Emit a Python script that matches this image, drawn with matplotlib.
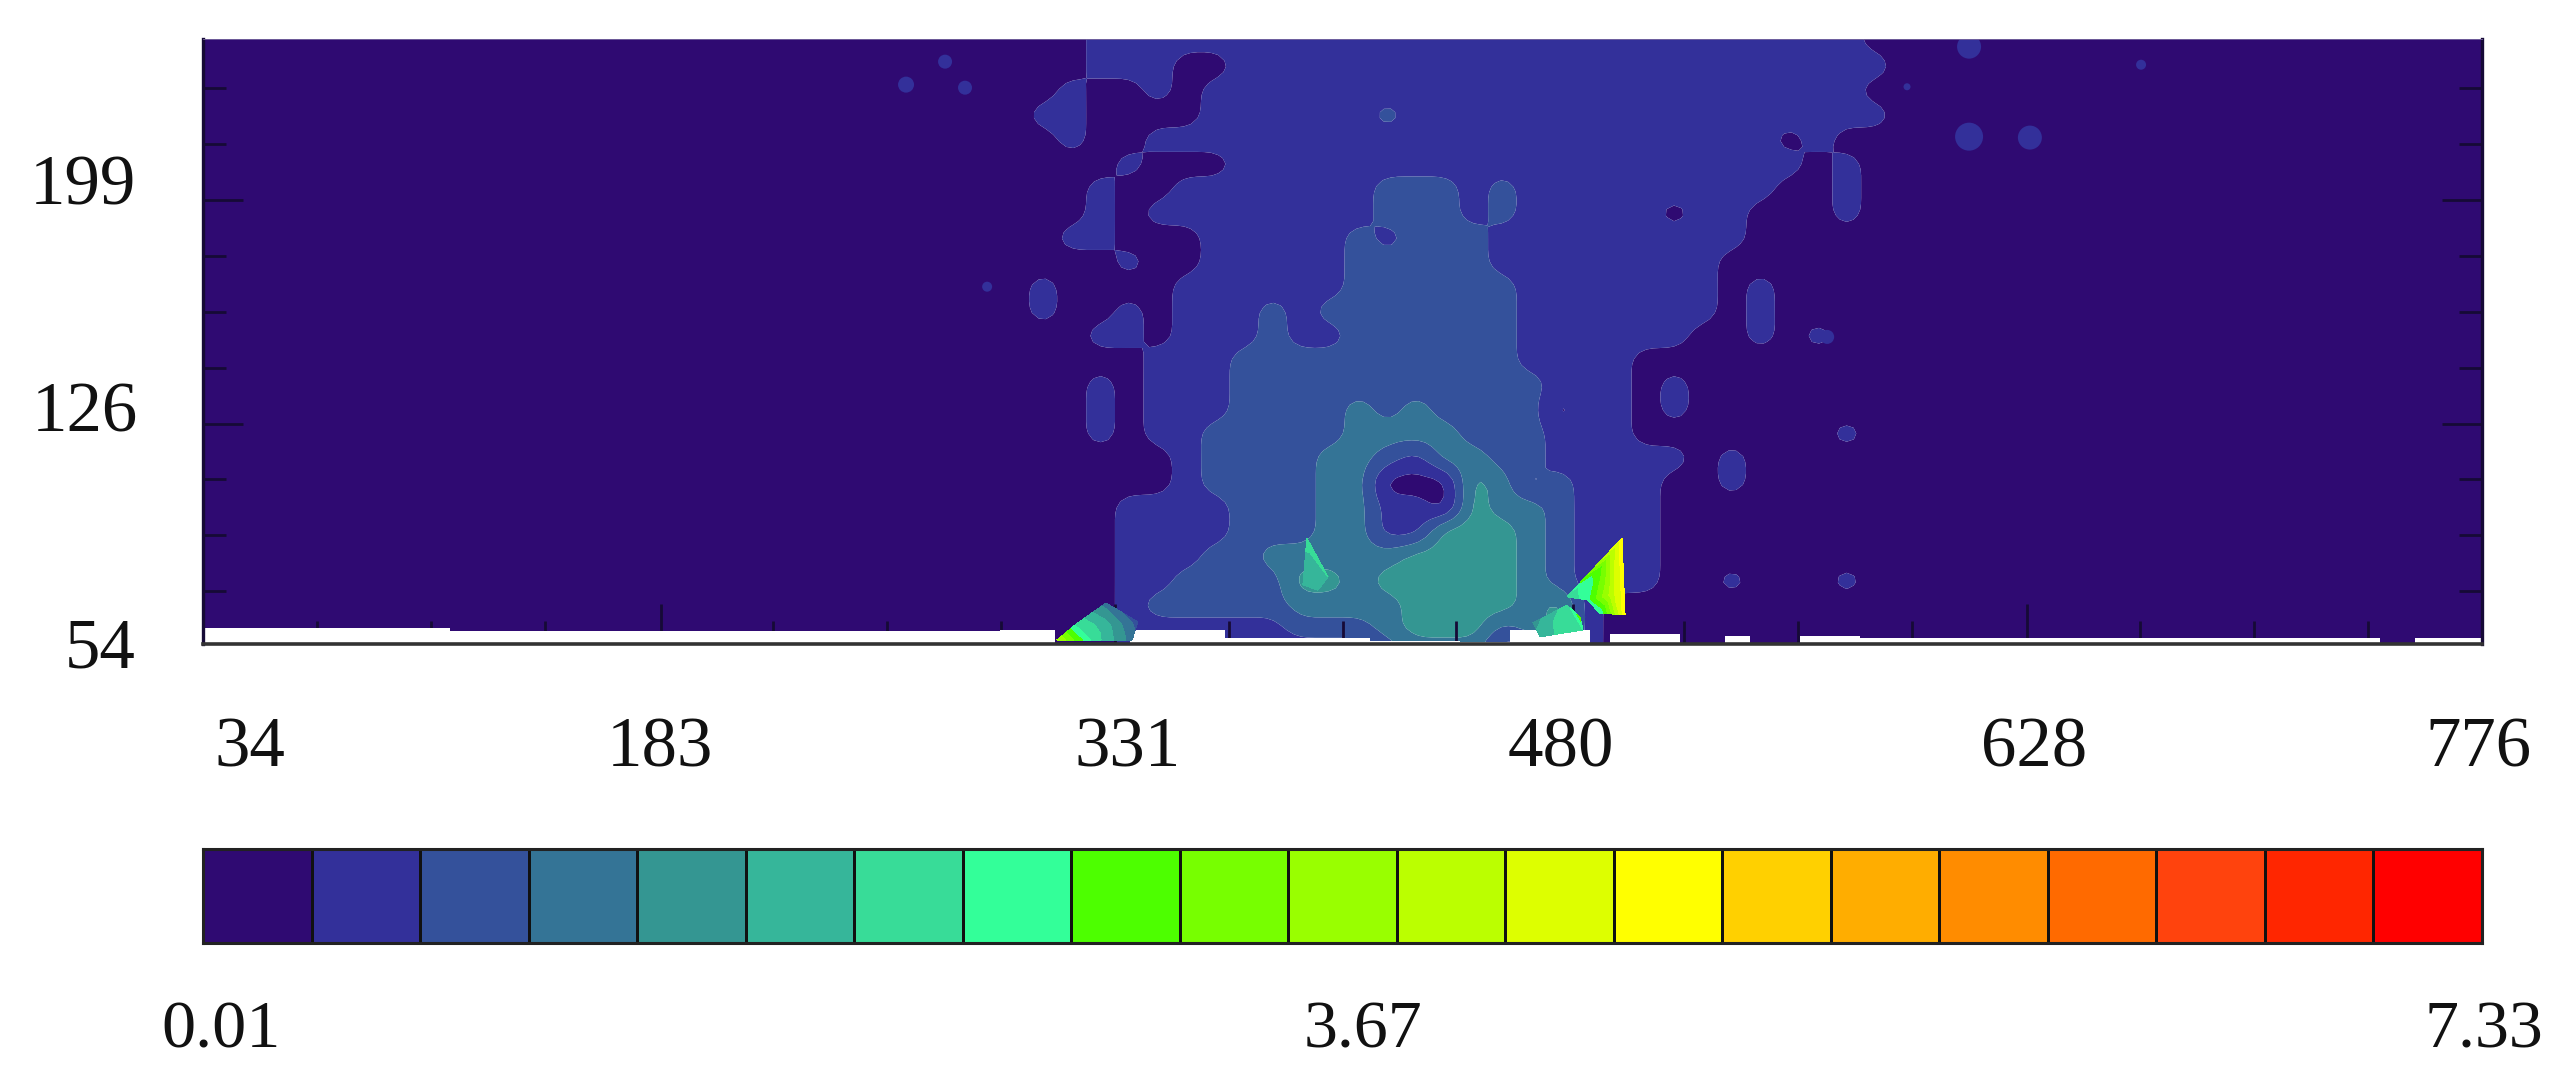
import numpy as np
import matplotlib
matplotlib.use("Agg")
import matplotlib.pyplot as plt
from matplotlib.colors import ListedColormap, BoundaryNorm
from matplotlib.ticker import FixedLocator
from matplotlib.tri import Triangulation

W, H = 2569, 1087
plt.rcParams['font.family'] = ['Liberation Serif', 'DejaVu Serif']

band_colors = ['#2f0a72', '#33309a', '#34519b', '#347496', '#349692', '#36b69a', '#38dc98',
               '#33ff99', '#4dff00', '#77ff00', '#99ff00', '#bbff00', '#ddff00', '#ffff00',
               '#ffd000', '#ffad00', '#ff8c00', '#ff6a00', '#ff430d', '#ff2600', '#ff0000']
v_min, v_max = 0.01, 7.33
x_tick_values = [34, 183, 331, 480, 628, 776]
y_tick_values = [199, 126]

# band index read at each node of the central part of the field
field_rows = [
    "0001111111111111111111111111110",
    "0001110011111111111111111111111",
    "0010010111111111111111111111110",
    "0110000111111211111111111111111",
    "0010011111111111111111111110100",
    "0000100011111111111111111111010",
    "0001001111111222121111111110010",
    "0001011111111222121111101100010",
    "0011000111112122211111111100000",
    "0000100111112222211111111000000",
    "0100001111112222221111111010000",
    "0100101112122222221111111010000",
    "0001101112112222221111110010100",
    "0000011122222222221111000000000",
    "0001011122222222222111010000000",
    "0001011122223232222011010000000",
    "0001011222223333222111000000010",
    "0000001222233213322111110100000",
    "0000001222233000431211100100000",
    "0000111122233110433211100000000",
    "0000111122233114443211100000000",
    "0000111223333344443211100000000",
    "0000112222443444443211100100010",
    "0000122222333344443410000000000",
    "0000111111222344423410000000000",
    "0000111111111233311310000000000",
]
field_x = [34.0, 288.9] + [298.2 + 9.344 * i for i in range(31)] + [587.9, 776.0]
field_y = [252.0] + [250.7 - 8.0 * j for j in range(1, 25)] + [53.5]

# isolated small islands of the second band
blob_x = [275.6, 262.9, 282.1, 289.3, 609.0, 609.0, 628.8, 665.0, 588.8, 562.8]
blob_y = [244.2, 236.7, 235.7, 170.7, 249.1, 219.7, 219.4, 243.2, 236.0, 154.3]
blob_d = [14, 16, 14, 10, 24, 28, 24, 10, 7, 14]

# sharp high-gradient wedges near the floor
tri_x = [478.1, 484.6, 488.8, 496.0, 497.0, 488.8, 492.7,
         467.0, 478.1, 482.3, 483.3, 469.3,
         393.4, 392.1, 400.3, 397.0,
         312.0, 317.9, 328.0, 338.4, 336.5, 324.4, 327.7]
tri_y = [69.4, 68.4, 64.1, 88.6, 63.5, 78.8, 70.0,
         60.9, 66.7, 62.8, 58.6, 56.3,
         88.6, 73.3, 75.9, 71.6,
         55.3, 60.2, 67.4, 61.2, 55.3, 55.3, 60.2]
tri_band = [6.2, 7.5, 7.0, 13.5, 13.5, 8.5, 11.5,
            4.5, 6.5, 8.5, 7.0, 5.5,
            6.2, 5.5, 6.0, 5.5,
            11.0, 7.0, 3.5, 2.5, 3.5, 6.5, 5.5]
tri_faces = [(0, 1, 5), (1, 2, 6), (1, 6, 5), (5, 6, 3), (6, 4, 3), (2, 4, 6), (0, 5, 3),
             (7, 8, 11), (8, 10, 11), (8, 9, 10),
             (12, 13, 15), (12, 15, 14),
             (16, 17, 21), (17, 22, 21), (17, 18, 22), (18, 19, 22), (19, 20, 22), (22, 20, 21)]

# lower edge of the coloured field (white beneath it)
floor_x = [34, 114.4, 293.5, 311.4, 335.8, 366.7, 414, 443.3, 459.5, 485.6, 492.1,
           514.9, 529.5, 537.7, 554, 573.5, 742.8, 754.2, 776]
floor_y = [59.2, 58.2, 58.6, 53, 58.6, 56, 55, 54.7, 58.6, 53, 57.3,
           53, 56.6, 53, 56.6, 56, 53, 56, 56]

n_bands = len(band_colors)
band_w = (v_max - v_min) / n_bands
levels = v_min + band_w * np.arange(n_bands + 1)
cmap = ListedColormap(band_colors)
norm = BoundaryNorm(levels, n_bands)


def px_box(l, t, r, b):
    return [l / W, 1 - b / H, (r - l) / W, (b - t) / H]


def round_off(a):
    """Round the faceted corners of the read-off grid with a small 3x3 box, twice."""
    for _ in range(2):
        p = np.pad(a, 1, mode='edge')
        a = (p[:-2, :-2] + p[:-2, 1:-1] + p[:-2, 2:] + p[1:-1, :-2] + p[1:-1, 1:-1] + p[1:-1, 2:]
             + p[2:, :-2] + p[2:, 1:-1] + p[2:, 2:]) / 9.0
    return a


fig = plt.figure(figsize=(W / 100, H / 100), dpi=100, facecolor='white')
ax = fig.add_axes(px_box(203, 39, 2482, 644))
ax.set_xlim(34, 776)
ax.set_ylim(54, 251.6)

Z = np.array([[0.0, 0.0] + [float(c) for c in row] + [0.0, 0.0] for row in field_rows])
Z = v_min + (Z + 0.5) * band_w
fine_x = np.linspace(34, 776, 331)
fine_y = np.linspace(252, 53.5, 107)
by_col = np.array([np.interp(fine_x, field_x, r) for r in Z])
fine = np.array([np.interp(fine_y[::-1], field_y[::-1], c[::-1])[::-1] for c in by_col.T]).T
fine = round_off(fine)
ax.contourf(fine_x, fine_y, fine, levels=levels, cmap=cmap, norm=norm, antialiased=True, zorder=1)
ax.scatter(blob_x, blob_y, s=[(d * 0.72) ** 2 for d in blob_d], color=band_colors[1],
           linewidths=0, zorder=2)
ax.fill_between(floor_x, 53, floor_y, step='post', color='white', lw=0, zorder=3)

tri = Triangulation(tri_x, tri_y, triangles=tri_faces)
ax.tricontourf(tri, v_min + np.array(tri_band) * band_w, levels=levels, cmap=cmap, norm=norm, zorder=4)

ax.xaxis.set_major_locator(FixedLocator(x_tick_values))
ax.xaxis.set_minor_locator(FixedLocator([34 + 37.1 * k for k in range(21) if k % 4]))
ax.yaxis.set_major_locator(FixedLocator(y_tick_values))
ax.yaxis.set_minor_locator(FixedLocator([235.5, 217.25, 180.75, 162.5, 144.25, 107.75, 89.5, 71.25]))
ink = '#160a36'
ax.tick_params(which='major', direction='in', length=28.8, width=2.0, color=ink,
               left=True, right=True, bottom=True, top=False,
               labelleft=False, labelbottom=False, zorder=6)
ax.tick_params(which='minor', direction='in', length=16.5, width=2.0, color=ink,
               left=True, right=True, bottom=True, top=False, zorder=6)
for side, lw, col in [('left', 2.4, ink), ('right', 2.4, ink), ('bottom', 2.6, '#333333'), ('top', 0.6, '#7a6aa0')]:
    ax.spines[side].set_linewidth(lw)
    ax.spines[side].set_color(col)
    ax.spines[side].set_zorder(7)

cax = fig.add_axes(px_box(203, 849, 2482, 943))
cax.pcolormesh(levels, [0, 1], ((levels[:-1] + levels[1:]) / 2).reshape(1, -1), cmap=cmap, norm=norm,
               edgecolors='#111111', linewidth=1.8)
cax.set_xlim(v_min, v_max)
cax.set_ylim(0, 1)
cax.set_xticks([])
cax.set_yticks([])
for s in cax.spines.values():
    s.set_linewidth(2.2)
    s.set_color('#222222')


def label(txt, px, py, size=51):
    fig.text(px / W, 1 - py / H, txt, ha='center', va='center', fontsize=size, color='#111111')


for txt, px, py in [('199', 83, 187), ('126', 85, 414), ('54', 100, 650),
                    (str(x_tick_values[0]), 250, 749), (str(x_tick_values[1]), 660, 749),
                    (str(x_tick_values[2]), 1128, 749), (str(x_tick_values[3]), 1561, 749),
                    (str(x_tick_values[4]), 2034, 749), (str(x_tick_values[5]), 2478, 749)]:
    label(txt, px, py)
for txt, px, py in [('0.01', 221, 1031), ('3.67', 1363, 1031), ('7.33', 2484, 1031)]:
    label(txt, px, py, 49)

fig.savefig('out.png', dpi=100, facecolor='white')
